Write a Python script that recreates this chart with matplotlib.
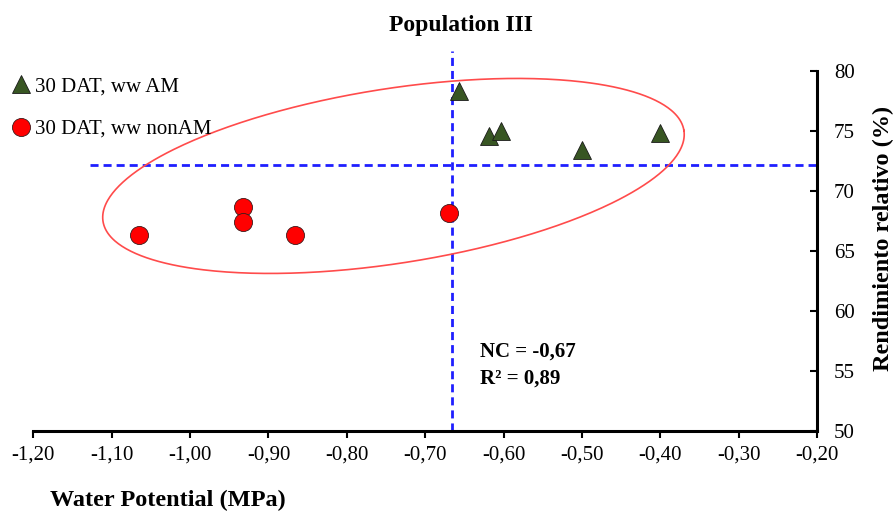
import numpy as np
import matplotlib
matplotlib.use('Agg')
import matplotlib.pyplot as plt

plt.rcParams['font.family'] = ['Liberation Serif', 'DejaVu Serif']

# data
am_x = [-0.657, -0.619, -0.603, -0.500, -0.401]
am_y = [78.3, 74.6, 75.0, 73.4, 74.8]
nonam_x = [-1.065, -0.932, -0.932, -0.866, -0.670]
nonam_y = [66.3, 68.7, 67.4, 66.3, 68.2]

nc_x = -0.666
nc_y = 72.2
hline_start = -1.128

x_ticks = [-1.2, -1.1, -1.0, -0.9, -0.8, -0.7, -0.6, -0.5, -0.4, -0.3, -0.2]
x_labels = ['-1,20', '-1,10', '-1,00', '-0,90', '-0,80', '-0,70',
            '-0,60', '-0,50', '-0,40', '-0,30', '-0,20']
y_ticks = [50, 55, 60, 65, 70, 75, 80]

# confidence ellipse: centre in data units, shape in pixels
ell_cx, ell_cy = -0.7406, 71.25
ell_a, ell_b, ell_ang = 294.0, 87.3, 8.9


def main():
    fig = plt.figure(figsize=(8.93, 5.11), dpi=100)
    fig.patch.set_facecolor('white')
    ax = fig.add_axes([0.0373, 0.1556, 0.8779, 0.7060])

    ax.set_xlim(-1.2, -0.2)
    ax.set_ylim(50, 80)

    # ellipse
    pxx = 784.0 / 1.0   # pixels per x unit
    pxy = 360.8 / 30.0  # pixels per y unit
    t = np.linspace(0, 2 * np.pi, 500)
    th = np.radians(ell_ang)
    ex = ell_a * np.cos(t) * np.cos(th) - ell_b * np.sin(t) * np.sin(th)
    ey = ell_a * np.cos(t) * np.sin(th) + ell_b * np.sin(t) * np.cos(th)
    ax.plot(ell_cx + ex / pxx, ell_cy + ey / pxy, color='#ff4b4b', lw=1.2,
            zorder=2)

    # NC lines
    dash = (0, (2.9, 1.8))
    ax.plot([hline_start, -0.2], [nc_y, nc_y], color='#1f1fff', lw=2.0,
            ls=dash, zorder=1, clip_on=False)
    ax.plot([nc_x, nc_x], [50, 81.6], color='#1f1fff', lw=2.0,
            ls=dash, zorder=1, clip_on=False)

    ax.plot(am_x, am_y, ls='None', marker='^', ms=13.5, color='#385623',
            mec='#1a1a1a', mew=0.6, zorder=4, label='30 DAT, ww AM')
    ax.plot(nonam_x, nonam_y, ls='None', marker='o', ms=13, color='#ff0000',
            mec='#3a1a1a', mew=0.6, zorder=4, label='30 DAT, ww nonAM')

    for s in ['top', 'left']:
        ax.spines[s].set_visible(False)
    ax.spines['bottom'].set_linewidth(2.2)
    ax.spines['right'].set_linewidth(2.2)

    ax.yaxis.tick_right()
    ax.set_xticks(x_ticks)
    ax.set_xticklabels(x_labels)
    ax.set_yticks(y_ticks)
    ax.tick_params(axis='x', direction='out', length=5, width=1.5,
                   labelsize=15, pad=5)
    ax.tick_params(axis='y', direction='in', length=5, width=1.5,
                   labelsize=15, pad=12)

    fig.text(0.5375, 0.311, 'NC = -0,67', va='center',
             fontsize=15, fontweight='bold')
    fig.text(0.5375, 0.260, 'R² = 0,89', va='center',
             fontsize=15, fontweight='bold')

    fig.text(0.516, 0.951, 'Population III', ha='center', va='center',
             fontsize=17, fontweight='bold')
    fig.text(0.056, 0.02, 'Water Potential (MPa)', ha='left',
             va='center', fontsize=17.5, fontweight='bold')
    fig.text(0.989, 0.534, 'Rendimiento relativo (%)', ha='center',
             va='center', rotation=90, fontsize=17.5, fontweight='bold')

    fig.legend(loc='upper left', bbox_to_anchor=(0.0, 0.866),
               frameon=False, fontsize=15, handletextpad=0.1,
               labelspacing=1.1, handlelength=1.2, borderaxespad=0.0)

    fig.savefig('out.png', dpi=100)
    plt.close(fig)


if __name__ == '__main__':
    main()
